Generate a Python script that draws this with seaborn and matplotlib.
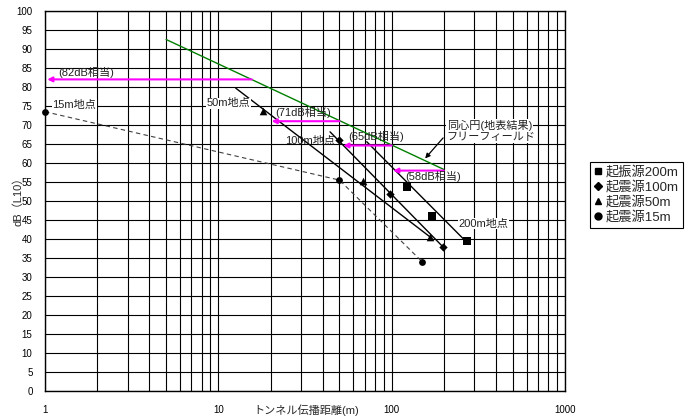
import numpy as np
import pandas as pd
import matplotlib
matplotlib.use("Agg")
import matplotlib.pyplot as plt
import seaborn as sns
from matplotlib.ticker import FixedLocator, FixedFormatter, NullFormatter

sns.set_style("white")
plt.rcParams["font.family"] = ["Liberation Sans", "Noto Sans CJK JP", "DejaVu Sans"]

# measured points per source (distance m, dB L10)
src200_x = [122, 172, 271]
src200_y = [53.8, 46.1, 39.5]
src100_x = [50, 98, 197]
src100_y = [66.0, 51.8, 38.0]
src50_x = [18, 68, 167]
src50_y = [73.8, 55.3, 40.6]
src15_x = [1, 50, 150]
src15_y = [73.5, 55.5, 34.0]

# fitted attenuation lines (end points)
fit200_x = [71.8, 269]
fit200_y = [65.6, 39.3]
fit100_x = [44.1, 197]
fit100_y = [68.2, 38.0]
fit50_x = [12.6, 167]
fit50_y = [79.7, 40.5]

# free-field (concentric circle) line
free_x = [5, 200]
free_y = [92.5, 58.3]

# equivalent levels: (level, from distance, to distance)
eq_levels = [82, 71, 64.6, 58]
eq_from = [15.6, 50, 100, 200]
eq_to = [1.03, 20.3, 52.6, 102]
eq_labels = ["(82dB相当)", "(71dB相当)", "(65dB相当)", "(58dB相当)"]

legend_names = ["起振源200m", "起震源100m", "起震源50m", "起震源15m"]

fig = plt.figure(figsize=(6.91, 4.19), dpi=100)
ax = fig.add_axes([45 / 691, 28 / 419, 520 / 691, 380 / 419])
ax.set_xscale("log")
ax.set_xlim(1, 1000)
ax.set_ylim(0, 100)

# grid
major = [1, 10, 100, 1000]
minor = [m * d for d in [1, 10, 100] for m in range(2, 10)]
ax.xaxis.set_major_locator(FixedLocator(major))
ax.xaxis.set_major_formatter(FixedFormatter(["1", "10", "100", "1000"]))
ax.xaxis.set_minor_locator(FixedLocator(minor))
ax.xaxis.set_minor_formatter(NullFormatter())
ax.set_yticks(np.arange(0, 101, 5))
ax.grid(True, which="both", color="black", lw=0.8)
ax.set_axisbelow(True)
for s in ax.spines.values():
    s.set_color("black")
    s.set_linewidth(1.0)
ax.tick_params(axis="both", which="both", length=0, labelsize=7, colors="black")
ax.tick_params(axis="x", pad=10)
ax.tick_params(axis="y", pad=9)

# lines
sns.lineplot(x=free_x, y=free_y, color="#008000", lw=1.0, ax=ax, estimator=None)
for fx, fy in [(fit200_x, fit200_y), (fit100_x, fit100_y), (fit50_x, fit50_y)]:
    sns.lineplot(x=fx, y=fy, color="black", lw=1.0, ax=ax, estimator=None)
sns.lineplot(x=src15_x, y=src15_y, color="#404040", lw=0.8, ax=ax,
             estimator=None, linestyle=(0, (4, 3)))

# points
series = [
    (src200_x, src200_y, "s", 30),
    (src100_x, src100_y, "D", 18),
    (src50_x, src50_y, "^", 30),
    (src15_x, src15_y, "o", 24),
]
handles = []
for (sx, sy, mk, sz), name in zip(series, legend_names):
    sns.scatterplot(x=sx, y=sy, marker=mk, s=sz, color="black",
                    edgecolor="black", linewidth=0, ax=ax, clip_on=False, zorder=5)
    handles.append(plt.Line2D([], [], marker=mk, color="black", lw=0,
                              markersize=5 if mk != "D" else 4, label=name))

# equivalent-level arrows
for lv, x0, x1, lab in zip(eq_levels, eq_from, eq_to, eq_labels):
    ax.annotate("", xy=(x1, lv), xytext=(x0, lv),
                arrowprops=dict(arrowstyle="-|>", color="#ff00ff", lw=1.5,
                                mutation_scale=7, shrinkA=0, shrinkB=0))

bb = dict(facecolor="white", edgecolor="none", pad=0.5)
txt = dict(fontsize=8, color="#222222", va="center", ha="left")
ax.text(1.19, 83.7, eq_labels[0], **txt)
ax.text(21.2, 73.3, eq_labels[1], **txt)
ax.text(56.2, 66.9, eq_labels[2], **txt)
ax.text(119, 56.4, eq_labels[3], **txt)
ax.text(1.1, 75.3, "15m地点", bbox=bb, **txt)
ax.text(8.57, 75.7, "50m地点", bbox=bb, **txt)
ax.text(24.3, 65.8, "100m地点", **txt)
ax.text(242, 44.1, "200m地点", bbox=bb, **txt)
ax.text(208, 70.0, "同心円(地表結果)", bbox=bb, **txt)
ax.text(208, 66.8, "フリーフィールド", bbox=bb, **txt)
ax.annotate("", xy=(156, 61.2), xytext=(198, 66.6),
            arrowprops=dict(arrowstyle="-|>", color="black", lw=0.9,
                            mutation_scale=7, shrinkA=0, shrinkB=0))

ax.set_xlabel("")
ax.set_ylabel("")
fig.text(306 / 691, 1 - 410 / 419, "トンネル伝播距離(m)", fontsize=8,
         ha="center", va="center")
fig.text(18 / 691, 1 - 199 / 419, "dB（L10）", fontsize=8, rotation=90,
         ha="center", va="center")

leg = fig.legend(handles=handles, loc="upper left",
                 bbox_to_anchor=(590 / 691, 1 - 162 / 419), fontsize=9.5,
                 frameon=True, fancybox=False, framealpha=1, edgecolor="black",
                 handlelength=0.6, handletextpad=0.3, borderpad=0.3,
                 labelspacing=0.15, borderaxespad=0)
leg.get_frame().set_linewidth(0.8)

fig.savefig("out.png", dpi=100)
